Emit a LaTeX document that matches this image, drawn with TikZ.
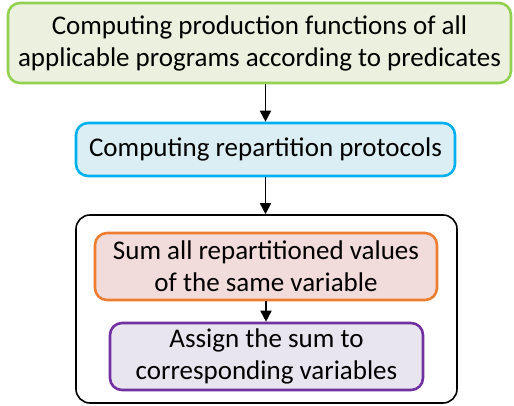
\documentclass[tikz,border=0pt]{standalone}
\usepackage{fontspec}
\setmainfont{Carlito}
\usetikzlibrary{arrows.meta}
\definecolor{gfill}{HTML}{EBF1DE}
\definecolor{gdraw}{HTML}{92D050}
\definecolor{bfill}{HTML}{DAEEF3}
\definecolor{bdraw}{HTML}{00B0F0}
\definecolor{ofill}{HTML}{F2DCDB}
\definecolor{odraw}{HTML}{ED7D31}
\definecolor{pfill}{HTML}{E9E5EF}
\definecolor{pdraw}{HTML}{7030A0}
\tikzset{
  boxbase/.style={rectangle, rounded corners=12pt, line width=2.6pt, align=center, inner sep=0pt,
    font=\fontsize{27}{32}\selectfont},
  arr/.style={-{Triangle[length=11pt,width=11pt]}, line width=1.6pt}
}
\begin{document}
\begin{tikzpicture}[x=1pt,y=1pt]
\useasboundingbox (0,0) rectangle (514,405);
\node[boxbase, draw=gdraw, fill=gfill, minimum width=503pt, minimum height=80pt] (g) at (259.5,362)
  {Computing production functions of all\\applicable programs according to predicates};
\node[boxbase, draw=bdraw, fill=bfill, minimum width=379pt, minimum height=53pt] (b) at (265.5,255.5)
  {Computing repartition protocols};
\node[rectangle, rounded corners=14pt, draw=black, line width=1.6pt, minimum width=381pt, minimum height=188pt] (outer) at (266.5,96) {};
\node[boxbase, draw=odraw, fill=ofill, minimum width=342pt, minimum height=67pt] (o) at (266,138.5)
  {Sum all repartitioned values\\of the same variable};
\node[boxbase, draw=pdraw, fill=pfill, minimum width=313pt, minimum height=67pt] (p) at (266.5,48.5)
  {Assign the sum to\\corresponding variables};
\draw[arr] (g.south -| b.north) -- (b.north);
\draw[arr] (b.south) -- (outer.north -| b.south);
\draw[arr] (o.south) -- (p.north -| o.south);
\end{tikzpicture}
\end{document}
